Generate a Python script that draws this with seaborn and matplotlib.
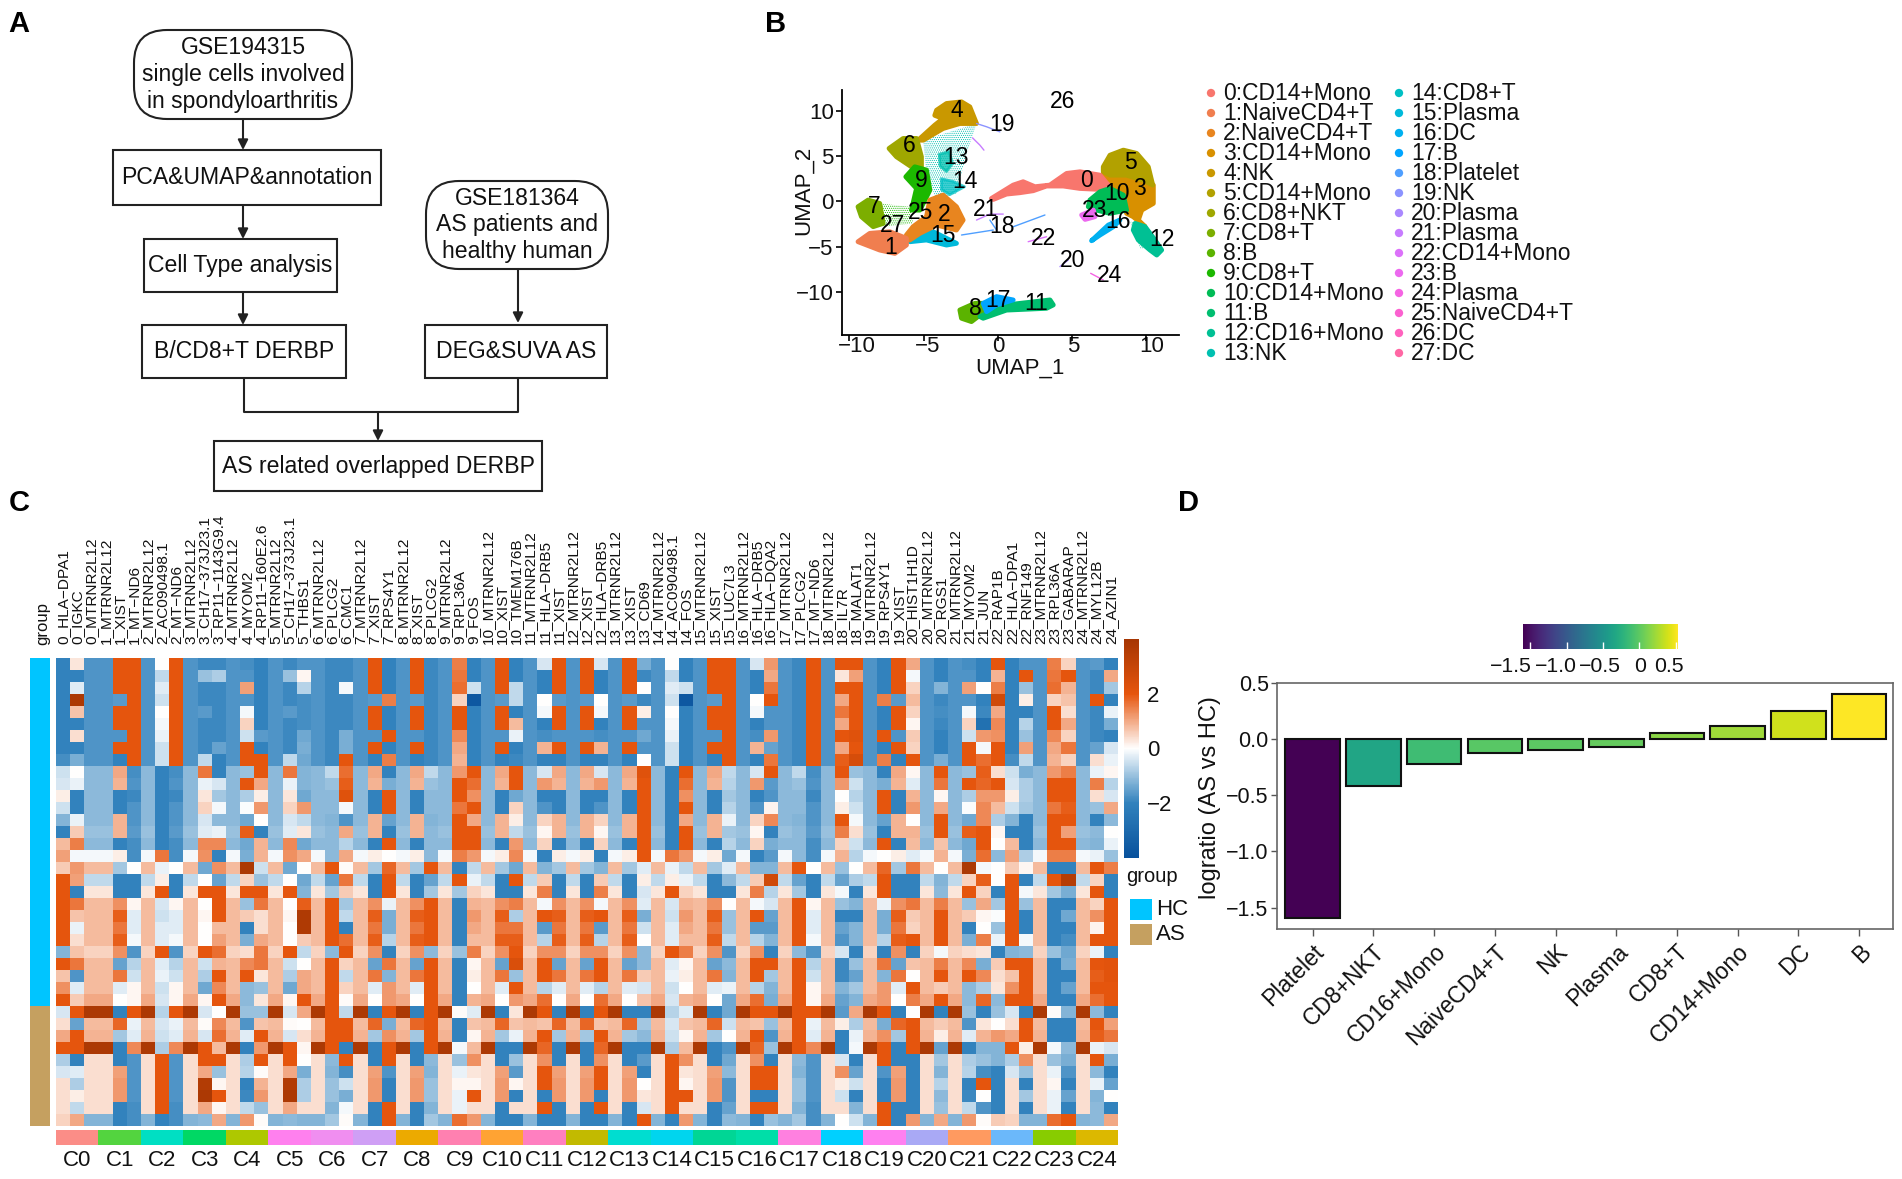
import numpy as np
import pandas as pd
import seaborn as sns
import matplotlib
matplotlib.use("Agg")
import matplotlib.pyplot as plt
from matplotlib.colors import LinearSegmentedColormap, ListedColormap, Normalize
from matplotlib.patches import FancyBboxPatch, Rectangle

# ---------- Panel C data: one profile per gene (39 samples) ----------
HLA_DPA1 = [-2,-2,-2,-2,-2,-2,-2,-2,-1.8, -.5,-.4,.2,-.5,-1.2,-2,.8,1.1,.6,2, 2,2,2,2,2,-1.2,2,.7,1.3,2, -.4,.4,1,2,-.8,-.4,.4,.4,.4,.5]
IGKC = [.3,-2,-.3,3.8,.7,-2,.4,-2,-1.3, 0,-.2,-2,-2,-.2,.6,1.5,-.1,1.2,1.1, -2,1.6,.7,-.2,.4,.7,1.6,-1.7,-.3,.6, 2,-1.5,2,2,-2,-.3,-.8,.2,-.6,1]
MTRNR2L12 = [-1.7,-1.7,-1.7,-1.7,-1.7,-1.7,-1.7,-1.7,-1.7, -1.1,-1.1,-1.1,-1.1,-1.1,-1,-1.1,-.1,.8,-.6, .3,.8,.8,.8,.8,.5,.8,.8,.8,1, 3.8,.8,.9,3.8,.4,.4,.4,.4,.4,-1.2]
XIST = [2,2,2,-1.6,2,2,-1.7,2,-2, 1,.9,-2,-2,.9,.9,-2,.2,-.9,-2, -2,1.3,1.9,1.6,1.9,1.3,-1.5,1.6,-.3,0, -2,1.8,-.9,-2,-2,1.1,1.2,1.2,-2,-2]
MT_ND6 = [2,2,2,2,2,2,2,2,2, -1.8,-1.7,-1.9,-1.7,-1.7,-1.6,-1.8,-1.8,0,-2, -2,.1,-.3,-.3,-.1,-1.7,-.7,-.5,.1,.1, 2,-.2,-.3,1.4,-1.7,-1.7,-1.7,-1.7,-1.8,-1.8]
AC090498 = [0,-.6,-.3,-.5,0,-.1,-.2,-.5,-.5, -2,-2,-2,-2,-2,-2,-2,1.6,-.2,.2, 2,-.4,-.5,-.3,-.3,2,-.3,-.2,-.5,-.4, -.7,-.4,-.5,-.8,2,2,2,2,2,-2]
CH17 = [-1.9,-1,-1.9,-1.9,-1.6,-1.9,-1.9,-1.9,-.6, 1.6,-.2,.3,.5,-.4,-.3,1.4,1.3,-1.4,0, 2,0,.1,0,0,2,-.5,-.8,-1.4,.1, -.4,.05,-.4,2,2,1,3.6,3.8,1,-1.1]
RP11_1143 = [-1.9,-.8,-1.9,-1.9,-1.9,-1.9,-1.9,-1.5,-2, -2,-.4,-.9,-.1,-1.1,-.2,1.4,-2,1.3,-1.5, 2,2,2,.8,1.1,1.7,.9,2,1.4,2, 0,1.4,1.7,.8,2,-1,.1,2,.1,1]
MYOM2 = [-1.8,-1.7,1.1,-1.7,-.1,.5,-.5,2,2, -1,2,-.8,-.05,-1.4,1.9,-1.4,-1.3,3.8,.5, 2,-1,.6,-2,-1.3,.4,1.4,2,-1.1,-1.1, -1,-1.7,-.3,-2,-.8,-.7,-2,-1.9,-.6,1.2]
RP11_160 = [-2,-2,-2,-2,-2,-2,-1.6,-2,2, 2,1,.2,1.2,0,-2,.9,.9,-.5,-1, 2,1.6,.4,.4,1,1.6,1.6,.3,-1,.3, -1,.7,2,1.2,2,.05,.9,1.2,-1,.05]
THBS1 = [-1.7,.1,-.7,-1.8,-1.8,-1.8,-1.4,-1.3,-1.4, -1.2,-1.2,-1.4,1.2,-.6,.3,-1.4,1,0,-1.4, -1.2,1.9,3.7,3.7,.6,-.6,0,1,1,2, 1,0,.4,.1,0,-1.3,-.8,-.8,.4,-1.2]
PLCG2 = [-1.9,-1.9,-1.9,-1.9,-1.9,-1.9,-1.9,-1.9,-1.9, -.6,-1,-1.1,-1.1,-1.2,-1.1,-1.1,-1.1,2,-1.5, -.9,2,2,2,2,-1.1,2,2,2,2, 2,2,2,2,-1.1,-1.2,-1,-1,-1.2,-.9]
CMC1 = [-1.9,-1.9,-.1,-1.9,-1.9,-1.9,-1.3,-1.3,2, 1.7,1.9,2.2,-.1,-1.7,1,-.7,1,.05,1.6, .6,-.9,-.6,-2,1.7,2,.5,-.6,.5,.05, -.6,2,2,-2,2,-1.8,-.5,-1.3,-.1,.05]
RPS4Y1 = [-2,-2,-2,1.5,-2,-2,2,-2,1.5, -2,-1.3,2,2,-1.5,-2,2,0,1.8,2, 2,-.2,-1.3,-1.3,-.7,-2,1.6,-1.2,1.2,1.2, 2,-1.3,1.3,2,2,-1.7,-2,-2,2,2]
RPL36A = [1.5,1.6,1.7,.5,2,2,1.4,1,.9, 1.2,2,2,1.6,2,2,2,1.5,-2,2, -.9,-2,-2,-2,-2,-1,-2,-2,-2,-2, .05,-2,-2,-.1,-1,-.2,.1,-.2,-.2,1.7]
FOS = [-2,-2,-.5,-3.7,-2,-2,-2,-2,-2, 2,1.7,1.3,2,1,2,2,1.2,-.6,-.2, .5,.9,1.2,1,.8,1.5,.1,.2,0,.9, -.3,.7,.1,.8,1.3,.3,.1,2,.4,1.2]
TMEM176B = [-2,-2,-.6,-.6,-2,.8,-.2,-2,-1.9, 2,2,-1.4,.5,.2,-.6,1.2,1.4,-1.4,2, -2,1.5,-.8,1.6,1.9,2,2.4,-1,2,1.2, .3,.7,-.2,-2,-1,-1.6,.1,-2,.4,-2]
HLA_DRB5 = [-.4,-2,-2,0,-.1,-2,-1.8,.9,-2, -.4,1.2,-2,-1.7,.5,.1,.5,-2,-1.2,.6, 1.5,-.1,2,-1.6,-.7,1.3,2,2,-.7,1.7, 2,.7,2,1.8,1.3,2,2,-2,2,-2]
CD69 = [-1.3,-1.9,0,-1.9,.2,-1.7,-1.4,-1.7,0, 2.2,2,2,2,2,2,2,2,-.3,.2, -.4,-.3,-1.3,-.5,0,-1.1,-1.1,.6,-.4,.7, -2,-.9,-1.1,-2,-1.6,-2,0,.3,-.4,2]
LUC7L3 = [2,2,2,2,2,2,2,2,2, -.6,-.7,-.9,-.7,-.2,-.9,-.7,-1.4,-.3,-1.1, -2,0,-1,-1,-.6,-1.7,-1.1,-1.2,-.2,-1.4, -1.4,-.5,0,-1.7,-1.4,-1.1,-1.7,-1.7,-1.5,-1.1]
HLA_DQA2 = [1.2,1,1.6,2,-1.7,-1.7,1.2,-1.5,1.6, 2,-1.6,-1.7,.15,1.4,-2,-1.3,-1.6,-1.2,2.7, -.7,-.4,-1.5,-1.6,-1.2,-2,2,-.9,-1.2,-1.3, 2,-1,-1.7,-1,-2,2,2,-2,2,-1]
IL7R = [2,.3,2,1,1.6,1,2,1,1.9, 2,1.2,0,.2,2,1.5,.5,.9,-1,-1.5, -.1,-1,-2,-1.5,-1.7,-.4,-1.9,-1.9,-1.2,-1.5, -1.6,.2,-2,-2,-.4,1.3,.2,-.5,.4,0]
MALAT1 = [2,1.1,2,2,2,2,2.2,2,2.5, -1,-.5,-.7,-.5,-.1,.4,-.5,-.7,0,-.8, -2,-1.2,-2,-1.2,-1.2,-2,-1,-1.5,-.9,-1.2, 1,-.8,-.2,-.1,-2,-1.5,-.5,-2,-1.2,-.5]
HIST1H1D = [1,-.1,.5,.8,.5,.1,.6,.5,2, .1,-.3,.9,1.2,0,.9,.8,-.3,1.6,-2, -2,1.6,.6,.5,2,-2,.7,0,2,1.5, 0,2,2,2,-2,-2,-2,-2,-2,1.2]
RGS1 = [-2,-2,-1.2,-1.9,-1.8,-1.9,-2,-2,-1.3, 2,1.6,.1,1,2,2,.7,.9,0,-1.2, -1.1,1.5,2,2,2,-.1,1.5,2,.6,2, -2,.6,.2,-1.5,-.9,-1.2,-.7,-1.1,-1,1]
JUN = [-2,-2,0,-2,-1.9,-2.7,1.2,-.1,1.7, 1.9,1.8,1.2,1.4,1.4,2,2,1.7,-.1,1.9, .5,1,.1,0,1.5,.3,-1.3,1.4,-.8,1.8, -2,.3,.9,-1.2,-1,-1.8,2,0,-1.7,.05]
RAP1B = [2,.9,1.5,2.7,1,1.4,1.3,2,2, .4,2,1.2,.8,-.8,.1,0,-1.1,0,0, -2,-.9,-.05,-1,-.2,-2,.6,.4,.3,-1.1, -1,0,1.2,-1.2,-1.2,-2,-2,-2,-2,.6]
RNF149 = [-1.7,2,-1,.2,-2,-.7,-1,1.1,-.6, -1.3,-.8,-.8,-.9,-2,-2,-2,-.8,.1,-2, -.1,-1,-2,-2,-.1,-1.1,2,2,2,2, -2,2,2,.2,1.3,-1,-2,-.9,-2,-1.2]
GABARAP = [.5,2,.9,.7,.4,1,.5,1.6,.5, 1.5,2,2,1.9,2,1.1,2,1.5,-2,3.5, -1.3,-2,-1.4,-2,-1.8,-1.4,-1.3,-2,-1.5,-2, -1.2,-2,-2,-1.1,-1.3,-1.7,-2,-1.5,-2,2]
MYL12B = [-1.6,-1.9,-1.9,2,-1.9,-1.9,-1.9,-1.5,.4, -.2,1.5,.4,-1,-2,-1.1,-1.2,-.2,2,.5, 2,.5,1.3,.15,2,-.2,2,1.9,2,1.7, -1.1,2,1.9,-.2,2,-1.1,-.2,-1.2,-1.1,-1.1]
AZIN1 = [-2,1,-.9,-2,-.2,-1.3,-2,-.4,-.2, .1,-.7,-.4,1,-1.1,0,-.2,-1,1.5,-2, -2,2,2,2,2,-2,2.1,2.1,2,2, -2,1.1,1.6,-.4,-1.3,-2,-1.5,0,-2,1]

gene_values = {
    "HLA−DPA1": HLA_DPA1, "IGKC": IGKC, "MTRNR2L12": MTRNR2L12, "XIST": XIST, "MT−ND6": MT_ND6,
    "AC090498.1": AC090498, "CH17−373J23.1": CH17, "RP11−1143G9.4": RP11_1143, "MYOM2": MYOM2,
    "RP11−160E2.6": RP11_160, "THBS1": THBS1, "PLCG2": PLCG2, "CMC1": CMC1, "RPS4Y1": RPS4Y1,
    "RPL36A": RPL36A, "FOS": FOS, "TMEM176B": TMEM176B, "HLA−DRB5": HLA_DRB5, "CD69": CD69,
    "LUC7L3": LUC7L3, "HLA−DQA2": HLA_DQA2, "IL7R": IL7R, "MALAT1": MALAT1, "HIST1H1D": HIST1H1D,
    "RGS1": RGS1, "JUN": JUN, "RAP1B": RAP1B, "RNF149": RNF149, "GABARAP": GABARAP,
    "MYL12B": MYL12B, "AZIN1": AZIN1,
}
cluster_genes = [
    ["HLA−DPA1", "IGKC", "MTRNR2L12"], ["MTRNR2L12", "XIST", "MT−ND6"], ["MTRNR2L12", "AC090498.1", "MT−ND6"],
    ["MTRNR2L12", "CH17−373J23.1", "RP11−1143G9.4"], ["MTRNR2L12", "MYOM2", "RP11−160E2.6"],
    ["MTRNR2L12", "CH17−373J23.1", "THBS1"], ["MTRNR2L12", "PLCG2", "CMC1"], ["MTRNR2L12", "XIST", "RPS4Y1"],
    ["MTRNR2L12", "XIST", "PLCG2"], ["MTRNR2L12", "RPL36A", "FOS"], ["MTRNR2L12", "XIST", "TMEM176B"],
    ["MTRNR2L12", "HLA−DRB5", "XIST"], ["MTRNR2L12", "XIST", "HLA−DRB5"], ["MTRNR2L12", "XIST", "CD69"],
    ["MTRNR2L12", "AC090498.1", "FOS"], ["MTRNR2L12", "XIST", "LUC7L3"], ["MTRNR2L12", "HLA−DRB5", "HLA−DQA2"],
    ["MTRNR2L12", "PLCG2", "MT−ND6"], ["MTRNR2L12", "IL7R", "MALAT1"], ["MTRNR2L12", "RPS4Y1", "XIST"],
    ["HIST1H1D", "MTRNR2L12", "RGS1"], ["MTRNR2L12", "MYOM2", "JUN"], ["RAP1B", "HLA−DPA1", "RNF149"],
    ["MTRNR2L12", "RPL36A", "GABARAP"], ["MTRNR2L12", "MYL12B", "AZIN1"],
]
group_counts = {"HC": 29, "AS": 10}
group_colors = {"HC": "#00c5ff", "AS": "#c5a060"}
c_colors = ["#fb8d87", "#53d43f", "#00dfc3", "#00d864", "#aec800", "#ff80ee", "#f08ef0", "#cf9ff5", "#ecaa00",
            "#ff80b0", "#ffa333", "#ff7fc0", "#c2ba00", "#00ddd0", "#00d5ee", "#00d695", "#00dea8", "#ff80e0",
            "#00d0ff", "#ff80f0", "#a9a9f5", "#ff9a60", "#6bb8fa", "#88cc00", "#dcb800"]

# ---------- Panel D data ----------
d_categories = ["Platelet", "CD8+NKT", "CD16+Mono", "NaiveCD4+T", "NK", "Plasma", "CD8+T", "CD14+Mono", "DC", "B"]
d_logratio = [-1.59, -0.42, -0.22, -0.12, -0.098, -0.07, 0.054, 0.113, 0.255, 0.40]

# ---------- Panel B data ----------
umap_names = ["CD14+Mono", "NaiveCD4+T", "NaiveCD4+T", "CD14+Mono", "NK", "CD14+Mono", "CD8+NKT", "CD8+T", "B", "CD8+T",
              "CD14+Mono", "B", "CD16+Mono", "NK", "CD8+T", "Plasma", "DC", "B", "Platelet", "NK", "Plasma", "Plasma",
              "CD14+Mono", "B", "Plasma", "NaiveCD4+T", "DC", "DC"]
umap_colors = ["#F8766D", "#F07E4F", "#E8851F", "#D89000", "#C99800", "#B2A100", "#9FA700", "#7CAE00", "#5BB300", "#1CB800",
               "#00BC56", "#00BE70", "#00C094", "#00C0B0", "#00BFC4", "#00B9DA", "#00B0F0", "#00A5FF", "#4F9FFF", "#8B93FF",
               "#AA88FF", "#C77CFF", "#DC71FA", "#EC69EF", "#F564E3", "#FB61D0", "#FF62BE", "#FF67A4"]
umap_blobs = {
    3: [(7.1,3.09),(8.67,2.9),(9.8,2.54),(10.47,1.8),(10.47,-.22),(9.69,-.96),(9.46,-2.06),(9.91,-2.79),(9.12,-1.69),(8.67,-1.32),(8.45,.15),(7.44,1.43)],
    5: [(7.1,3.82),(7.55,5.1),(8.45,5.66),(9.35,5.3),(10.13,3.82),(10.43,1.8),(9.8,2.35),(8.65,2.9),(7.55,2.9),(7.1,3.3)],
    0: [(-.43,.33),(1.03,1.8),(1.7,2.17),(2.5,1.62),(3.5,1.8),(4.63,3.09),(5.53,3.27),(6.88,2.9),(7.44,1.8),(7.2,1.3),(5.53,1.43),(4.4,1.7),(3.28,1.7),(2.38,1.18),(1.48,.96),(.58,.81),(-.31,.22)],
    10: [(6.2,.15),(6.88,1.07),(7.55,1.43),(8.45,.7),(8.67,-.96),(7.55,-1.32),(6.65,-.96),(6.09,-.59)],
    12: [(9.24,-2.43),(9.91,-2.79),(10.58,-4.26),(11.03,-5.37),(10.7,-5.92),(10.25,-5.37),(9.46,-4.26),(9.12,-3.16)],
    16: [(6.31,-4.34),(7.44,-2.61),(8.22,-2.06),(7.78,-2.79),(6.88,-3.71)],
    23: [(5.64,-1.5),(6.43,-.96),(6.54,-1.69),(5.87,-1.99)],
    4: [(-4.13,10.07),(-3.46,10.81),(-2.45,10.99),(-1.89,10.44),(-1.44,8.6),(-2.56,8.6),(-3.69,8.05),(-5.03,6.76),(-5.37,6.76),(-4.25,8.42),(-3.69,9.15),(-4.25,9.5)],
    6: [(-7.33,5.85),(-6.38,6.95),(-5.48,6.95),(-5.15,4.93),(-5.15,3.82),(-5.82,3.82),(-6.83,4.93)],
    9: [(-6.2,2.72),(-5.6,3.82),(-4.81,3.46),(-4.58,1.25),(-5.26,-.96),(-5.82,-.96),(-5.48,1.43)],
    7: [(-9.42,-.59),(-8.74,.15),(-7.96,-.22),(-7.73,-2.43),(-8.4,-2.79),(-9.19,-1.69)],
    15: [(-5.93,-3.9),(-4.36,-3.35),(-2.79,-4.63),(-3.46,-4.82),(-4.81,-4.26),(-5.93,-4.45)],
    2: [(-6.16,-3.71),(-5.71,-2.79),(-4.81,-1.69),(-4.58,.15),(-3.69,.7),(-2.79,-.59),(-2.34,-2.06),(-2.79,-3.16),(-4.13,-2.61),(-5.26,-3.53),(-5.93,-4.26)],
    1: [(-9.42,-4.45),(-8.63,-3.53),(-7.28,-3.35),(-6.16,-4.08),(-6.16,-4.82),(-6.94,-5.74),(-7.96,-5.37)],
    8: [(-2.56,-11.99),(-1.54,-11.25),(-.09,-11.25),(-.76,-11.99),(-1.78,-13.27),(-2.45,-12.9)],
    11: [(-1.21,-12.72),(.58,-11.43),(3.51,-10.88),(3.73,-11.43),(3.28,-11.8),(.58,-12),(-.99,-12.9)],
    17: [(-.99,-11.25),(-.09,-10.51),(1.03,-10.88),(-.09,-11.43),(-.76,-12.17)],
}
umap_soft_blobs = {
    13: [(-3.95,5.2),(-3.3,5.5),(-3.05,4.2),(-3.46,3.3),(-3.9,3.9)],
    14: [(-3.8,2.5),(-3.01,2.2),(-2.25,1.62),(-3.24,.75),(-3.8,1.3)],
}
umap_haze = [
    (13, [(-5.03,6.76),(-1.44,8.6),(-2.11,5.3),(-2.79,.88),(-4.13,.15),(-4.81,3.09)]),
    (9, [(-7.96,-.22),(-5.93,-.59),(-5.71,-2.43),(-7.73,-2.79)]),
    (12, [(8.9,-2.2),(10,-2.6),(11,-5),(9.6,-5.2)]),
]
umap_streaks = [
    (19, [(-1.44,8.6),(-.76,8.24),(.13,7.68)]),
    (21, [(-1.71,7.02),(-1.21,6.21),(-.94,5.66)]),
    (21, [(-1.44,-2.06),(-.54,-1.4),(.36,-1.4)]),
    (18, [(-2.45,-3.71),(-.31,-3.16)]),
    (18, [(1.03,-2.8),(3.17,-1.5)]),
    (18, [(-.54,-2.06),(-.09,-3.16)]),
    (22, [(2.04,-4.45),(3.28,-3.9)]),
    (20, [(4.18,-7.2),(4.74,-6.47)]),
    (24, [(6.25,-7.94),(7.1,-8.68)]),
]
umap_label_x = [5.98,-7.24,-3.62,9.53,-2.79,8.9,-5.98,-8.31,-1.51,-5.15,8,2.6,11.03,-2.83,-2.22,-3.69,8.07,.02,.31,.31,5.01,-.81,3.1,6.49,7.55,-5.19,4.36,-7.1]
umap_label_y = [2.28,-5.07,-1.4,1.43,10.07,4.3,6.2,-.59,-11.8,2.35,.88,-11.25,-4.26,4.8,2.17,-3.71,-2.24,-10.96,-2.72,8.49,-6.47,-.85,-4.08,-.96,-8.13,-1.21,11.07,-2.68]

# ---------- Figure ----------
sns.set_theme(style="white")
plt.rcParams["font.family"] = ["Liberation Sans", "DejaVu Sans"]
plt.rcParams["axes.unicode_minus"] = True
plt.rcParams["hatch.linewidth"] = 0.5
W, H = 1902, 1179
fig = plt.figure(figsize=(W / 100, H / 100), dpi=100, facecolor="white")

def px_axes(l, t, r, b):
    return fig.add_axes([l / W, 1 - b / H, (r - l) / W, (b - t) / H])

canvas = px_axes(0, 0, W, H)
canvas.set_xlim(0, W)
canvas.set_ylim(H, 0)
canvas.axis("off")

for letter, x, y in [("A", 19, 24), ("B", 776, 24), ("C", 19, 503), ("D", 1189, 503)]:
    canvas.text(x, y, letter, fontsize=21, fontweight="bold", ha="center", va="center", color="black")

# ---------- Panel A ----------
FS_A = 16.6
def box(l, t, r, b, text, rounded=False):
    if rounded:
        rad = 33
        canvas.add_patch(FancyBboxPatch((l + rad, t + rad), r - l - 2 * rad, b - t - 2 * rad,
                                        boxstyle=f"round,pad={rad},rounding_size={rad}",
                                        fc="white", ec="#222222", lw=1.5))
    else:
        canvas.add_patch(Rectangle((l, t), r - l, b - t, fc="white", ec="#222222", lw=1.5))
    canvas.text((l + r) / 2, (t + b) / 2, text, fontsize=FS_A, ha="center", va="center",
                linespacing=1.2, color="#111111")

def arrow(x0, y0, x1, y1):
    canvas.annotate("", xy=(x1, y1), xytext=(x0, y0),
                    arrowprops=dict(arrowstyle="-|>", color="#222222", lw=1.5, mutation_scale=15,
                                    shrinkA=0, shrinkB=0))

box(134, 30, 352, 119, "GSE194315\nsingle cells involved\nin spondyloarthritis", True)
box(113, 150, 381, 205, "PCA&UMAP&annotation")
box(144, 239, 337, 292, "Cell Type analysis")
box(142, 325, 346, 378, "B/CD8+T DERBP")
box(426, 181, 608, 269, "GSE181364\nAS patients and\nhealthy human", True)
box(425, 325, 607, 378, "DEG&SUVA AS")
box(214, 441, 542, 491, "AS related overlapped DERBP")
arrow(243, 119, 243, 150)
arrow(243, 205, 243, 239)
arrow(243, 292, 243, 325)
arrow(518, 269, 518, 323)
canvas.plot([244, 244, 518, 518], [378, 412, 412, 378], color="#222222", lw=1.5)
arrow(378, 412, 378, 441)

# ---------- Panel B ----------
axb = px_axes(842, 90, 1179, 335)
axb.set_xlim(-10.5, 12.2)
axb.set_ylim(-14.75, 12.3)
for cid, pts in umap_haze:
    xs, ys = zip(*pts)
    axb.fill(xs, ys, fill=False, hatch="........", ec=umap_colors[cid], lw=0)
for cid, pts in umap_soft_blobs.items():
    xs, ys = zip(*pts)
    axb.fill(xs, ys, color=umap_colors[cid], lw=2, ec=umap_colors[cid], joinstyle="round", alpha=0.75)
for cid, pts in umap_blobs.items():
    xs, ys = zip(*pts)
    axb.fill(xs, ys, color=umap_colors[cid], lw=3.5, ec=umap_colors[cid], joinstyle="round")
for cid, pts in umap_streaks:
    xs, ys = zip(*pts)
    sns.lineplot(x=list(xs), y=list(ys), sort=False, estimator=None, color=umap_colors[cid], lw=1.0, ax=axb)
for i, (lx, ly) in enumerate(zip(umap_label_x, umap_label_y)):
    axb.text(lx, ly, str(i), fontsize=16.5, ha="center", va="center", color="black")
axb.set_xticks([-10, -5, 0, 5, 10])
axb.set_yticks([-10, -5, 0, 5, 10])
axb.set_xticklabels([])
axb.set_yticklabels(["−10", "−5", "0", "5", "10"])
axb.tick_params(labelsize=16, length=4, width=1.2, color="black", bottom=True, left=True, pad=2, labelcolor="#111111")
for s in ["top", "right"]:
    axb.spines[s].set_visible(False)
for s in ["left", "bottom"]:
    axb.spines[s].set_color("black")
    axb.spines[s].set_linewidth(1.3)
for lab, cx in zip(["−10", "−5", "0", "5", "10"], [857, 928, 998, 1073, 1152]):
    canvas.text(cx, 347, lab, fontsize=16, ha="center", va="center", color="#111111")
canvas.text(1020, 368, "UMAP_1", fontsize=16, ha="center", va="center", color="#111111")
canvas.text(803, 190, "UMAP_2", fontsize=16, ha="center", va="center", rotation=90, color="#111111")

leg_x = [1211] * 14 + [1399] * 14
leg_y = [93 + 20 * i for i in range(14)] * 2
sns.scatterplot(x=leg_x, y=leg_y, hue=list(range(28)), palette=umap_colors, s=36, linewidth=0,
                legend=False, ax=canvas)
canvas.set_xlim(0, W)
canvas.set_ylim(H, 0)
for i, name in enumerate(umap_names):
    canvas.text(leg_x[i] + 12, leg_y[i], f"{i}:{name}", fontsize=16.5, ha="left", va="center", color="#111111")

# ---------- Panel C ----------
col_labels, col_values = [], []
for cluster, genes in enumerate(cluster_genes):
    for gene in genes:
        col_labels.append(f"{cluster}_{gene}")
        col_values.append(gene_values[gene])
matrix = pd.DataFrame(np.array(col_values).T, columns=col_labels)

heat_cmap = LinearSegmentedColormap.from_list(
    "blue_orange", [(0, "#08519c"), (0.25, "#3182bd"), (0.5, "#ffffff"), (0.75, "#e6550d"), (1, "#a63603")])
L, T, R, B = 56, 658, 1118, 1126
axc = px_axes(L, T, R, B)
cax = px_axes(1124, 639, 1139, 858)
sns.heatmap(matrix, cmap=heat_cmap, vmin=-4, vmax=4, ax=axc, cbar_ax=cax,
            xticklabels=True, yticklabels=False, linewidths=0)
axc.xaxis.tick_top()
axc.tick_params(axis="x", length=0, pad=10)
axc.set_xticklabels(col_labels, rotation=90, fontsize=11.1, color="#111111")
for lab in axc.get_xticklabels():
    lab.set_va("bottom")
axc.set_ylabel("")
cax.set_yticks([-2, 0, 2])
cax.set_yticklabels(["−2", "0", "2"])
cax.tick_params(length=0, labelsize=16, pad=6, labelcolor="#111111")
for s in cax.spines.values():
    s.set_visible(False)

rows = [g for g, n in group_counts.items() for _ in range(n)]
axg = px_axes(30, T, 50, B)
sns.heatmap(pd.DataFrame({"group": [list(group_counts).index(g) for g in rows]}),
            cmap=ListedColormap([group_colors[g] for g in group_counts]), cbar=False,
            xticklabels=False, yticklabels=False, ax=axg)
axg.set_ylabel("")
canvas.text(43, 645, "group", fontsize=12, rotation=90, ha="center", va="bottom", color="#111111")

axa = px_axes(L, 1130, R, 1145)
sns.heatmap(pd.DataFrame([[c for c in range(25) for _ in range(3)]]), cmap=ListedColormap(c_colors), cbar=False,
            xticklabels=False, yticklabels=False, ax=axa)
for c in range(25):
    canvas.text(L + (R - L) * (c + 0.5) / 25, 1161, f"C{c}", fontsize=16, ha="center", va="center", color="#111111")

canvas.text(1126, 877, "group", fontsize=14.5, ha="left", va="center", color="#111111")
for name, top in [("HC", 899), ("AS", 924)]:
    canvas.add_patch(Rectangle((1130, top), 22, 21, fc=group_colors[name], ec="none"))
    canvas.text(1156, top + 10.5, name, fontsize=16, ha="left", va="center", color="#111111")

# ---------- Panel D ----------
axd = px_axes(1277, 683, 1893, 929)
bar_norm = Normalize(-1.59, 0.40)
bar_palette = {c: plt.cm.viridis(bar_norm(v)) for c, v in zip(d_categories, d_logratio)}
sns.barplot(x=d_categories, y=d_logratio, hue=d_categories, palette=bar_palette, dodge=False, legend=False,
            width=0.9, edgecolor="#111111", linewidth=1.5, saturation=1, ax=axd)
axd.set_xlim(-0.59, 9.56)
axd.set_ylim(-1.69, 0.5)
axd.set_yticks([-1.5, -1, -0.5, 0, 0.5])
axd.set_yticklabels(["−1.5", "−1.0", "−0.5", "0.0", "0.5"])
axd.tick_params(axis="y", labelsize=15.5, length=4, width=1, color="#555555", left=True, pad=2, labelcolor="#111111")
axd.tick_params(axis="x", labelsize=16.5, length=5, width=1, color="#555555", bottom=True, pad=3, labelcolor="#111111")
plt.setp(axd.get_xticklabels(), rotation=45, ha="right", rotation_mode="anchor")
for s in axd.spines.values():
    s.set_color("#666666")
    s.set_linewidth(1.2)
canvas.text(1210, 798, "logratio (AS vs HC)", fontsize=17, rotation=90, ha="center", va="center", color="#111111")

axcb = px_axes(1523, 624, 1677, 649)
cb_min, cb_max = -1.6, 0.52
axcb.imshow(np.linspace(0, 1, 256)[None, :], cmap="viridis", aspect="auto", extent=[cb_min, cb_max, 0, 1])
axcb.set_yticks([])
axcb.set_xticks([-1.5, -1, -0.5, 0, 0.5])
axcb.set_xticklabels([])
axcb.tick_params(axis="x", direction="in", color="white", length=5, width=1, bottom=True)
for s in axcb.spines.values():
    s.set_visible(False)
for lab, cx in zip(["−1.5", "−1.0", "−0.5", "0", "0.5"], [1511, 1556, 1600, 1640, 1669]):
    canvas.text(cx, 666, lab, fontsize=15.3, ha="center", va="center", color="#111111")

fig.savefig("out.png", dpi=100, facecolor="white")
